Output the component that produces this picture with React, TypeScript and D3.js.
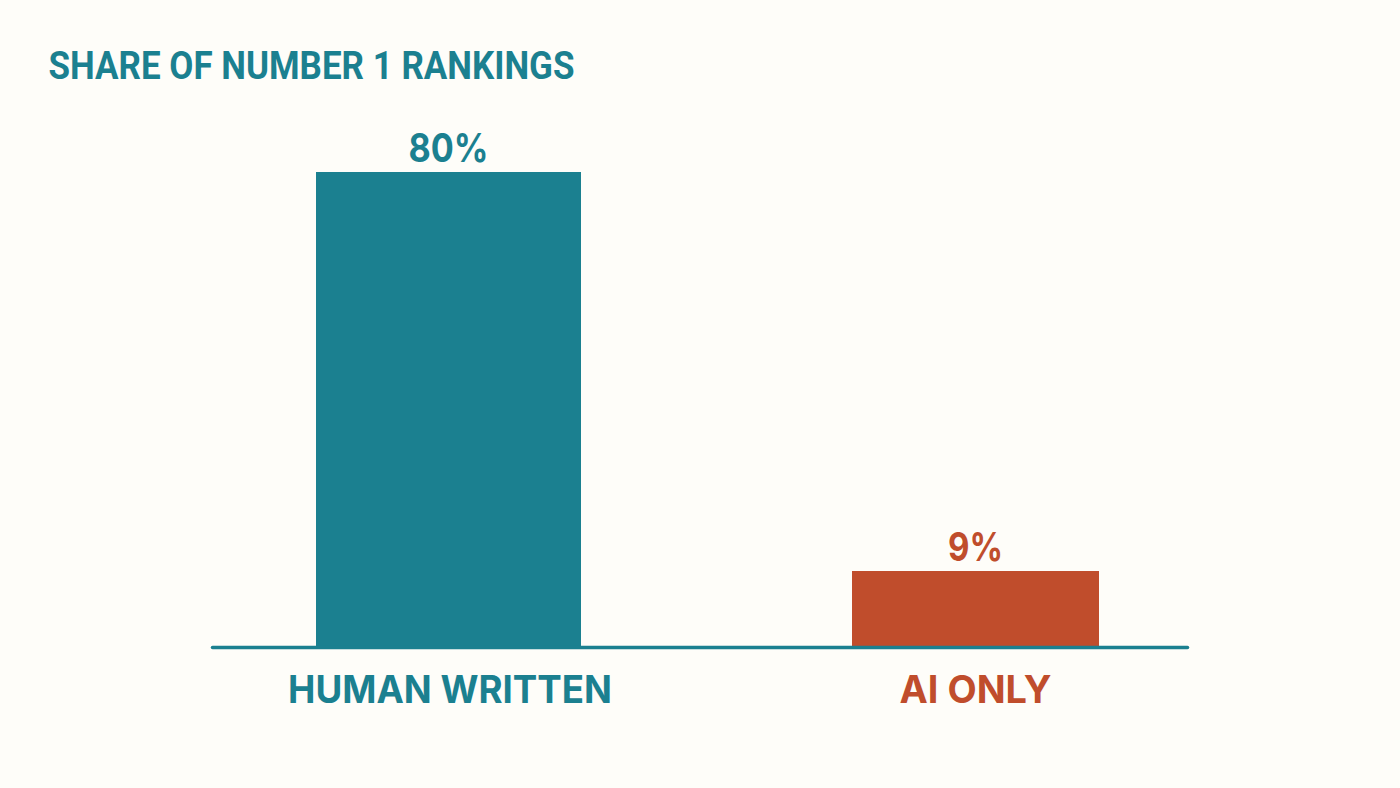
import React from "react";
import * as d3 from "d3";

const categories = ["HUMAN WRITTEN", "AI ONLY"];
// Bar heights: the short bar is drawn taller than its printed 9% on the scale of the 80% bar.
const barHeights = [80, 12.8];
const valueLabels = ["80%", "9%"];
const titleText = "SHARE OF NUMBER 1 RANKINGS";

export default function App() {
  const baseY = 647;
  const labelFont = "Inter, 'Noto Sans', sans-serif";
  const titleFont = "Roboto, Inter, sans-serif";
  const y = d3.scaleLinear().domain([0, 80]).range([baseY, 172]);
  const x = d3.scalePoint<string>().domain(categories).range([448.5, 975.5]);
  const color = d3.scaleOrdinal<string, string>().domain(categories).range(["#1b8090", "#c04d2c"]);
  const barWidth = d3.scaleOrdinal<string, number>().domain(categories).range([265, 247]);
  const valueWidth = d3.scaleOrdinal<string, number>().domain(categories).range([80, 55]);
  const catWidth = d3.scaleOrdinal<string, number>().domain(categories).range([324, 152]);
  const catCenter = d3.scaleOrdinal<string, number>().domain(categories).range([450, 975.5]);
  return (
    <svg width={1400} height={788} style={{ position: "fixed", left: 0, top: 0, display: "block" }}>
      <rect x={0} y={0} width={1400} height={788} fill="#fefdf9" />
      <text x={48.5} y={79} fontFamily={titleFont} fontSize={39} fontWeight={700} fill="#1b8090" textLength={526} lengthAdjust="spacingAndGlyphs">{titleText}</text>
      {categories.map((c, i) => {
        const cx = x(c) as number;
        const w = barWidth(c);
        const top = y(barHeights[i]);
        return (
          <g key={c}>
            <rect x={cx - w / 2} y={top} width={w} height={baseY - top} fill={color(c)} />
            <text x={cx - valueWidth(c) / 2} y={top - 10} fontFamily={labelFont} fontSize={40} fontWeight={700} fill={color(c)} textLength={valueWidth(c)} lengthAdjust="spacingAndGlyphs">{valueLabels[i]}</text>
            <text x={catCenter(c) - catWidth(c) / 2} y={703} fontFamily={labelFont} fontSize={38.5} fontWeight={700} fill={color(c)} textLength={catWidth(c)} lengthAdjust="spacingAndGlyphs">{c}</text>
          </g>
        );
      })}
      <line x1={212.5} x2={1187.5} y1={647.5} y2={647.5} stroke="#1b8090" strokeWidth={3.5} strokeLinecap="round" />
    </svg>
  );
}
